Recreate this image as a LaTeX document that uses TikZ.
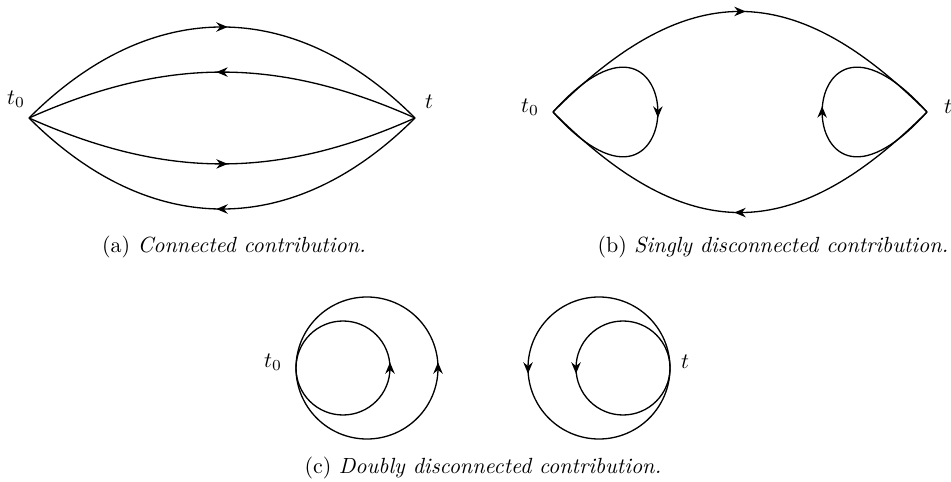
\documentclass[tikz,border=0pt]{standalone}
\usepackage{amsmath}
\usepackage{tikz}
\usetikzlibrary{arrows.meta, decorations.markings}

\begin{document}
\begin{tikzpicture}[x=0.455pt, y=0.455pt, semithick,
    midfwd/.style={postaction={decorate}, decoration={markings,
      mark=at position 0.5 with {\arrow[xshift=2.6pt]{Stealth[length=5.2pt, width=4.3pt, inset=1.7pt]}}}},
    midback/.style={postaction={decorate}, decoration={markings,
      mark=at position 0.5 with {\arrowreversed[xshift=-2.6pt]{Stealth[length=5.2pt, width=4.3pt, inset=1.7pt]}}}}]
    \useasboundingbox (0,0) rectangle (951,-482);
    % (a) connected
    \coordinate (a0) at (29,-118);
    \coordinate (a1) at (415,-118);
    \node (t0a) at (16,-99) {$t_0$};
    \node (ta) at (429,-102) {$t$};
    \path
      (a0) edge[midfwd, out=45, in=135, looseness=1.14] (a1)
      (a0) edge[midback, out=24, in=156] (a1)
      (a0) edge[midfwd, out=-24, in=-156] (a1)
      (a0) edge[midback, out=-45, in=-135, looseness=1.14] (a1);
    \node (capa) at (234,-247) {(a)~\textit{Connected contribution.}};
    % (b) singly disconnected
    \coordinate (b0) at (553,-112);
    \coordinate (b1) at (927,-112);
    \node (t0b) at (530,-107) {$t_0$};
    \node (tb) at (948,-107) {$t$};
    \path
      (b0) edge[midfwd, out=45, in=135, looseness=1.3] (b1)
      (b0) edge[midback, out=-45, in=-135, looseness=1.3] (b1);
    \draw[midfwd] (b0) .. controls +(48:209) and +(-48:209) .. (b0);
    \draw[midfwd] (b1) .. controls +(-132:209) and +(132:209) .. (b1);
    \node (capb) at (773,-247) {(b)~\textit{Singly disconnected contribution.}};
    % (c) doubly disconnected
    \coordinate (c0) at (296,-368);
    \coordinate (c1) at (670,-368);
    \node (t0c) at (273,-362) {$t_0$};
    \node (tc) at (685,-362) {$t$};
    \draw[midfwd] (c0) arc[start angle=180, end angle=540, radius=71];
    \draw[midfwd] (c0) arc[start angle=180, end angle=540, radius=47];
    \draw[midfwd] (c1) arc[start angle=0, end angle=360, radius=71];
    \draw[midfwd] (c1) arc[start angle=0, end angle=360, radius=47];
    \node (capc) at (483,-468) {(c)~\textit{Doubly disconnected contribution.}};
\end{tikzpicture}
\end{document}
